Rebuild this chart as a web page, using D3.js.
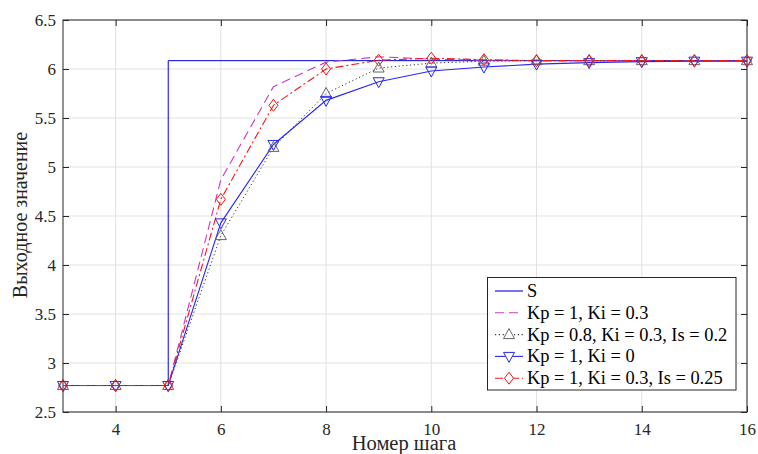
<!DOCTYPE html>
<html><head><meta charset="utf-8">
<script src="https://cdn.jsdelivr.net/npm/d3@7"></script>
<style>body{margin:0;background:#fff}svg{display:block}</style>
</head><body>
<svg id="c" width="758" height="454"></svg>
<script>
const steps = [3,4,5,6,7,8,9,10,11,12,13,14,15,16];
const sX = [3,4,5,5,16];
const sY = [2.77,2.77,2.77,6.085,6.085];
const kp1ki03 = [2.77,2.77,2.77,4.87,5.82,6.07,6.125,6.1,6.09,6.085,6.085,6.085,6.085,6.085];
const kp08ki03is02 = [2.77,2.77,2.77,4.30,5.20,5.75,6.01,6.06,6.08,6.085,6.085,6.085,6.085,6.085];
const kp1ki0 = [2.77,2.77,2.77,4.43,5.23,5.68,5.87,5.98,6.02,6.05,6.065,6.075,6.08,6.08];
const kp1ki03is025 = [2.77,2.77,2.77,4.67,5.63,6.00,6.09,6.11,6.095,6.085,6.085,6.085,6.085,6.085];
const xTicks = [4,6,8,10,12,14,16];
const yTicks = [2.5,3,3.5,4,4.5,5,5.5,6,6.5];
const legendLabels = ["S","Kp = 1, Ki = 0.3","Kp = 0.8, Ki = 0.3, Is = 0.2","Kp = 1, Ki = 0","Kp = 1, Ki = 0.3, Is = 0.25"];

const FONT="'Liberation Serif'";
const L=63,R=747,T=20,B=412;
const svg=d3.select("#c");
const x=d3.scaleLinear().domain([3,16]).range([L,R]);
const y=d3.scaleLinear().domain([2.5,6.5]).range([B,T]);

const g=svg.append("g");
g.selectAll(".gx").data(xTicks).enter().append("line")
 .attr("x1",d=>x(d)).attr("x2",d=>x(d)).attr("y1",T).attr("y2",B)
 .attr("stroke","#e1e1e1").attr("stroke-width",1);
g.selectAll(".gy").data(yTicks).enter().append("line")
 .attr("y1",d=>y(d)).attr("y2",d=>y(d)).attr("x1",L).attr("x2",R)
 .attr("stroke","#e1e1e1").attr("stroke-width",1);

const ax=svg.append("g").attr("transform",`translate(0,${B})`)
 .call(d3.axisBottom(x).tickValues(xTicks).tickSizeInner(-6).tickSizeOuter(0).tickPadding(11).tickFormat(d3.format("d")));
const ay=svg.append("g").attr("transform",`translate(${L},0)`)
 .call(d3.axisLeft(y).tickValues(yTicks).tickSizeInner(-6).tickSizeOuter(0).tickPadding(7).tickFormat(d=>String(d)));
const axT=svg.append("g").attr("transform",`translate(0,${T})`)
 .call(d3.axisTop(x).tickValues(xTicks).tickSizeInner(-6).tickSizeOuter(0).tickFormat(""));
const ayR=svg.append("g").attr("transform",`translate(${R},0)`)
 .call(d3.axisRight(y).tickValues(yTicks).tickSizeInner(-6).tickSizeOuter(0).tickFormat(""));
[ax,ay,axT,ayR].forEach(a=>{a.select(".domain").remove();a.selectAll("line").attr("stroke","#262626");
 a.attr("font-family",null).attr("font-size",null);
 a.selectAll("text").style("font-family",FONT).style("font-size","17px").attr("fill","#262626");});
svg.append("rect").attr("x",L).attr("y",T).attr("width",R-L).attr("height",B-T)
 .attr("fill","none").attr("stroke","#262626").attr("stroke-width",1);

const line=d3.line().x(d=>x(d[0])).y(d=>y(d[1]));
const zip=(xs,ys)=>xs.map((v,i)=>[v,ys[i]]);

const plot=svg.append("g");
plot.append("path").attr("d",line(zip(sX,sY))).attr("fill","none").attr("stroke","#0000e0").attr("stroke-width",1);
plot.append("path").attr("d",line(zip(steps,kp1ki03))).attr("fill","none").attr("stroke","#c33cc8").attr("stroke-width",1.1).attr("stroke-dasharray","9,5");
plot.append("path").attr("d",line(zip(steps,kp08ki03is02))).attr("fill","none").attr("stroke","#333").attr("stroke-width",1).attr("stroke-dasharray","1.2,2.6");
plot.append("path").attr("d",line(zip(steps,kp1ki0))).attr("fill","none").attr("stroke","#2828f0").attr("stroke-width",1.1);
plot.append("path").attr("d",line(zip(steps,kp1ki03is025))).attr("fill","none").attr("stroke","#f01818").attr("stroke-width",1.1).attr("stroke-dasharray","8,3,2,3");

const triUp=(cx,cy)=>`M${cx},${cy-6}L${cx+5.5},${cy+4}L${cx-5.5},${cy+4}Z`;
const triDn=(cx,cy)=>`M${cx},${cy+6}L${cx+5.5},${cy-4}L${cx-5.5},${cy-4}Z`;
const diam=(cx,cy)=>`M${cx},${cy-6}L${cx+4.5},${cy}L${cx},${cy+6}L${cx-4.5},${cy}Z`;

plot.selectAll(".mu").data(zip(steps,kp08ki03is02)).enter().append("path")
 .attr("d",d=>triUp(x(d[0]),y(d[1]))).attr("fill","none").attr("stroke","#666").attr("stroke-width",1);
plot.selectAll(".md").data(zip(steps,kp1ki0)).enter().append("path")
 .attr("d",d=>triDn(x(d[0]),y(d[1]))).attr("fill","none").attr("stroke","#2828f0").attr("stroke-width",1);
plot.selectAll(".mr").data(zip(steps,kp1ki03is025)).enter().append("path")
 .attr("d",d=>diam(x(d[0]),y(d[1]))).attr("fill","none").attr("stroke","#f01818").attr("stroke-width",1);

svg.append("text").attr("x",404).attr("y",450).attr("text-anchor","middle")
 .style("font-family",FONT).style("font-size","20.5px").attr("fill","#262626").text("Номер шага");
svg.append("text").attr("transform",`translate(27,215) rotate(-90)`).attr("text-anchor","middle")
 .style("font-family",FONT).style("font-size","20px").attr("fill","#262626").text("Выходное значение");

const lg=svg.append("g");
lg.append("rect").attr("x",487.5).attr("y",277.5).attr("width",248.5).attr("height",112.5)
 .attr("fill","#fff").attr("stroke","#262626").attr("stroke-width",1);
const rowY=i=>291+i*21.8;
const lx1=495,lx2=523,lxm=509;
const styles=[
 {c:"#0000e0",da:null},{c:"#c33cc8",da:"9,5"},{c:"#333",da:"1.2,2.6"},{c:"#2828f0",da:null},{c:"#f01818",da:"8,3,2,3"}];
legendLabels.forEach((t,i)=>{
 const yy=rowY(i);
 const ln=lg.append("line").attr("x1",lx1).attr("x2",lx2).attr("y1",yy).attr("y2",yy)
  .attr("stroke",styles[i].c).attr("stroke-width",1.1);
 if(styles[i].da) ln.attr("stroke-dasharray",styles[i].da);
 lg.append("text").attr("x",527).attr("y",yy+6).style("font-family",FONT).style("font-size","18.4px")
  .attr("fill","#000").text(t);
});
lg.append("path").attr("d",triUp(lxm,rowY(2))).attr("fill","#fff").attr("stroke","#666");
lg.append("path").attr("d",triDn(lxm,rowY(3))).attr("fill","#fff").attr("stroke","#2828f0");
lg.append("path").attr("d",diam(lxm,rowY(4))).attr("fill","#fff").attr("stroke","#f01818");
</script>
</body></html>
